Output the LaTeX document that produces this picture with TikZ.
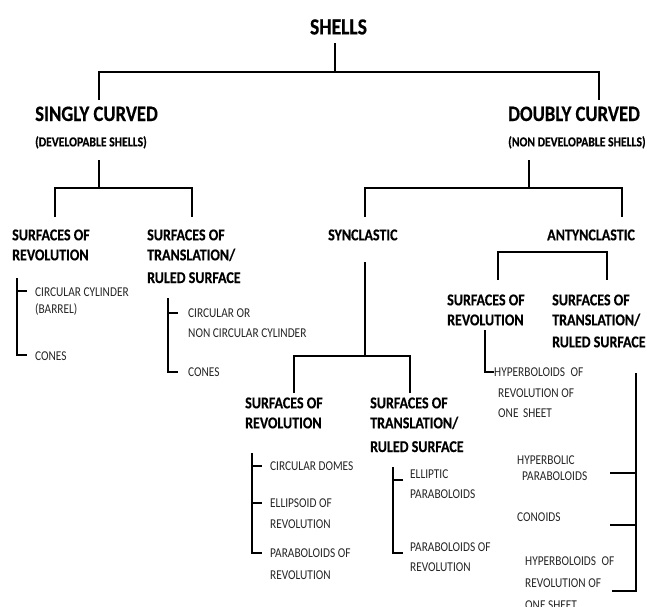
\documentclass[tikz,border=0pt]{standalone}
\usepackage{fontspec}
\setmainfont{Carlito}
\newfontfamily\condfont[FakeStretch=0.85, BoldFeatures={FakeBold=0.4}]{Carlito}
\newfontfamily\regfont[FakeStretch=0.84]{Carlito}
\begin{document}
\begin{tikzpicture}[x=1pt,y=-1pt,
  bt/.style={font=\condfont\bfseries\fontsize{16.5}{20}\selectfont, inner sep=0pt, anchor=base west},
  rt/.style={font=\regfont\fontsize{13.5}{16}\selectfont, inner sep=0pt, anchor=base west, text=black!85},
  ln/.style={line width=2.4pt},
  br/.style={line width=2.8pt}]
\fill[white] (0,0) rectangle (647,606);
\useasboundingbox (0,0) rectangle (647,606);
% top level
\node[bt, anchor=base, font=\condfont\bfseries\fontsize{23}{26}\selectfont] (shells) at (338.5,34.4) {SHELLS};
\node[bt, font=\condfont\bfseries\fontsize{22}{26}\selectfont] (singly) at (35,121) {SINGLY CURVED};
\node[bt, font=\condfont\bfseries\fontsize{13.7}{16}\selectfont] (singlyb) at (35,146.4) {(DEVELOPABLE SHELLS)};
\node[bt, font=\condfont\bfseries\fontsize{22}{26}\selectfont] (doubly) at (508,121) {DOUBLY CURVED};
\node[bt, font=\condfont\bfseries\fontsize{13.7}{16}\selectfont] (doublyb) at (508,146.4) {(NON DEVELOPABLE SHELLS)};
% singly curved children
\node[bt] (lsor1) at (12,240.3) {SURFACES OF};
\node[bt] (lsor2) at (12,260.3) {REVOLUTION};
\node[bt] (lsot1) at (147,240.3) {SURFACES OF};
\node[bt] (lsot2) at (147,260.3) {TRANSLATION/};
\node[bt] (lsot3) at (147,283) {RULED SURFACE};
\node[rt] (ccyl1) at (35,296) {CIRCULAR CYLINDER};
\node[rt] (ccyl2) at (35,313.3) {(BARREL)};
\node[rt] (cones1) at (35,360.3) {CONES};
\node[rt] (cnc1) at (188,317.3) {CIRCULAR OR};
\node[rt] (cnc2) at (188,337.3) {NON CIRCULAR CYLINDER};
\node[rt] (cones2) at (188,376.3) {CONES};
% doubly curved children
\node[bt] (syn) at (328,240.3) {SYNCLASTIC};
\node[bt] (anty) at (547,240.3) {ANTYNCLASTIC};
\node[bt] (asor1) at (447,305.3) {SURFACES OF};
\node[bt] (asor2) at (447,325.3) {REVOLUTION};
\node[bt] (asot1) at (552,305.3) {SURFACES OF};
\node[bt] (asot2) at (552,325.3) {TRANSLATION/};
\node[bt] (asot3) at (552,347.3) {RULED SURFACE};
\node[rt] (hyp1) at (494,376.3) {HYPERBOLOIDS\hspace{3pt} OF};
\node[rt] (hyp2) at (498,397.3) {REVOLUTION OF};
\node[rt] (hyp3) at (498,417.3) {ONE\hspace{2pt} SHEET};
\node[rt] (hpb1) at (517,464.3) {HYPERBOLIC};
\node[rt] (hpb2) at (522,480.3) {PARABOLOIDS};
\node[rt] (conoids) at (517,521.3) {CONOIDS};
\node[rt] (hyq1) at (525,565.3) {HYPERBOLOIDS\hspace{3pt} OF};
\node[rt] (hyq2) at (525,587) {REVOLUTION OF};
\node[rt] (hyq3) at (525,609) {ONE SHEET};
% synclastic children
\node[bt] (ssor1) at (245,408.3) {SURFACES OF};
\node[bt] (ssor2) at (245,428.3) {REVOLUTION};
\node[bt] (ssot1) at (370,408.3) {SURFACES OF};
\node[bt] (ssot2) at (370,428.3) {TRANSLATION/};
\node[bt] (ssot3) at (370,452) {RULED SURFACE};
\node[rt] (domes) at (270,470.3) {CIRCULAR DOMES};
\node[rt] (ell1) at (270,507.3) {ELLIPSOID OF};
\node[rt] (ell2) at (270,528.3) {REVOLUTION};
\node[rt] (par1) at (270,557.3) {PARABOLOIDS OF};
\node[rt] (par2) at (270,579.3) {REVOLUTION};
\node[rt] (elp1) at (410,478.3) {ELLIPTIC};
\node[rt] (elp2) at (410,498.3) {PARABOLOIDS};
\node[rt] (par3) at (410,551.3) {PARABOLOIDS OF};
\node[rt] (par4) at (410,571.3) {REVOLUTION};
% junction coordinates
\coordinate (s0) at (335,43);   \coordinate (s0b) at (335,72);
\coordinate (s0l) at (99,100);  \coordinate (s0r) at (599,100);
\coordinate (s1) at (99,160);   \coordinate (s1b) at (99,188);
\coordinate (s1l) at (55,217);  \coordinate (s1r) at (192,217);
\coordinate (s2) at (529,160);  \coordinate (s2b) at (529,188);
\coordinate (s2l) at (365,217); \coordinate (s2r) at (622,217);
\coordinate (s3) at (365,262);  \coordinate (s3b) at (365,356);
\coordinate (s3l) at (294,393); \coordinate (s3r) at (410,393);
\coordinate (s4l) at (498,280); \coordinate (s4m) at (550,252); \coordinate (s4r) at (607,280);
% connectors
\draw[ln] (s0l) |- (s0b) -| (s0r);  \draw[ln] (s0) -- (s0b);
\draw[ln] (s1l) |- (s1b) -| (s1r);  \draw[ln] (s1) -- (s1b);
\draw[ln] (s2l) |- (s2b) -| (s2r);  \draw[ln] (s2) -- (s2b);
\draw[ln] (s3l) |- (s3b) -| (s3r);  \draw[ln] (s3) -- (s3b);
\draw[ln] (s4l) |- (s4m) -| (s4r);
% brackets
\coordinate (b1t) at (17,278); \coordinate (b1a) at (27,291); \coordinate (b1b) at (27,355);
\draw[br] (b1t) |- (b1b); \draw[br] (b1a) -- (b1a -| b1t);
\coordinate (b2t) at (168,298); \coordinate (b2a) at (178,313); \coordinate (b2b) at (178,372);
\draw[br] (b2t) |- (b2b); \draw[br] (b2a) -- (b2a -| b2t);
\coordinate (b3t) at (485,330); \coordinate (b3b) at (494,372);
\draw[br] (b3t) |- (b3b);
\coordinate (b4t) at (636,373); \coordinate (b4a) at (610,473); \coordinate (b4c) at (610,525); \coordinate (b4b) at (612,591);
\draw[br] (b4t) |- (b4b); \draw[br] (b4a) -- (b4a -| b4t); \draw[br] (b4c) -- (b4c -| b4t);
\coordinate (b5t) at (252,453); \coordinate (b5a) at (262,466); \coordinate (b5c) at (262,503); \coordinate (b5b) at (262,553);
\draw[br] (b5t) |- (b5b); \draw[br] (b5a) -- (b5a -| b5t); \draw[br] (b5c) -- (b5c -| b5t);
\coordinate (b6t) at (393,467); \coordinate (b6a) at (403,480); \coordinate (b6b) at (403,553);
\draw[br] (b6t) |- (b6b); \draw[br] (b6a) -- (b6a -| b6t);
\end{tikzpicture}
\end{document}
